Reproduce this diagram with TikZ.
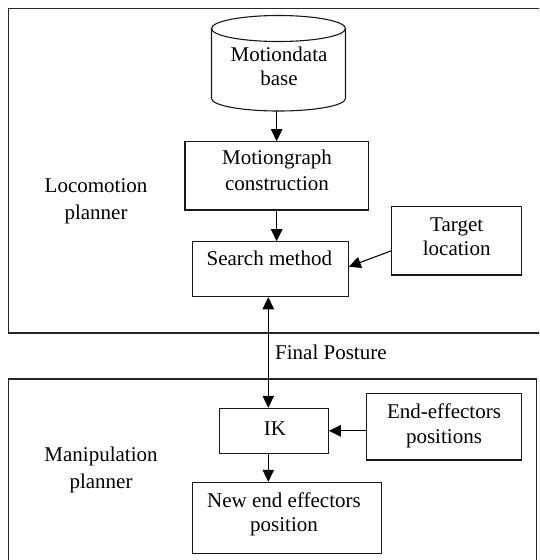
\documentclass[tikz,border=0pt]{standalone}
\usepackage{fontspec}
\setmainfont{Liberation Serif}
\newfontfamily\refserif{Liberation Serif}
\usetikzlibrary{arrows.meta}
\begin{document}
\begin{tikzpicture}[x=1pt,y=-1pt,
  frame/.style={draw=black!85, line width=1.2pt, rectangle, inner sep=0pt},
  box/.style={draw=black!90, line width=1.1pt, rectangle, inner sep=0pt},
  arr/.style={line width=1.1pt, -{Triangle[width=11.5pt,length=12pt]}},
  arrboth/.style={line width=1.1pt, {Triangle[width=11.5pt,length=12pt]}-{Triangle[width=11.5pt,length=12pt]}},
  txt/.style={inner sep=0pt, font=\refserif\fontsize{21}{25}\selectfont},
  two/.style 2 args={txt, align=center, font=\refserif\fontsize{21}{#1}\selectfont, text height=#2, text depth=4.5pt}
]
\useasboundingbox (0,0) rectangle (539,560);
\clip (0,0) rectangle (539,560);

% planner frames
\node[frame, minimum width=532.2pt, minimum height=324.7pt] (toppl) at (274.4,170.65) {};
\node[frame, minimum width=528.2pt, minimum height=191pt] (botpl) at (272.4,474.5) {};

% motion database cylinder
\draw[line width=1.1pt, draw=black!90] (211.5,28.5) -- (211.5,98.5)
  arc[start angle=180, end angle=360, x radius=67pt, y radius=12.5pt] -- (345.5,28.5);
\draw[line width=1.1pt, draw=black!90] (278.5,28.5) ellipse [x radius=67pt, y radius=13pt];
\node[two={24}{38pt}] (db) at (279,68.85) {Motiondata\\base};
\coordinate (dbbot) at (276.65,111);

% boxes
\node[box, minimum width=183.3pt, minimum height=68.3pt] (mg) at (276.65,175.85) {};
\node[two={26}{40pt}] (mgt) at (277,172.85) {Motiongraph\\construction};

\node[box, minimum width=155.6pt, minimum height=55pt] (search) at (270.5,269.2) {};
\node[txt, anchor=base] (searcht) at (269.3,265.3) {Search method};

\node[box, minimum width=130pt, minimum height=68.3pt] (target) at (456.7,240.85) {};
\node[two={24}{38pt}] (targett) at (456.7,238.55) {Target\\location};

\node[box, minimum width=109pt, minimum height=45pt] (ik) at (273.8,430.8) {};
\node[txt, anchor=base] (ikt) at (275,435.1) {IK};

\node[box, minimum width=155pt, minimum height=66.7pt] (ee) at (444.2,426.65) {};
\node[two={25}{39pt}] (eet) at (444,426.35) {End-effectors\\positions};

\node[box, minimum width=188.9pt, minimum height=71pt] (new) at (287.15,517.8) {};
\node[two={24}{38pt}] (newt) at (284,514.55) {New end effectors\\position};

% planner labels
\node[two={27}{41pt}] (loc) at (96,201.35) {Locomotion\\planner};
\node[two={27}{41pt}] (man) at (101,470.35) {Manipulation\\planner};
\node[txt, anchor=base west] (fp) at (275,359.6) {Final Posture};

% connectors
\coordinate (vx) at (268.3,0);
\draw[arr] (dbbot) -- (mg.north);
\draw[arr] (mg.south) -- (mg.south |- search.north);
\draw[arr] ([yshift=-10pt]target.west) -- ([yshift=2.5pt]search.east);
\draw[arrboth] (search.south -| vx) -- (ik.north -| vx);
\draw[arr] (ee.west |- ik.east) -- (ik.east);
\draw[arr] (ik.south -| vx) -- (new.north -| vx);
\end{tikzpicture}
\end{document}
